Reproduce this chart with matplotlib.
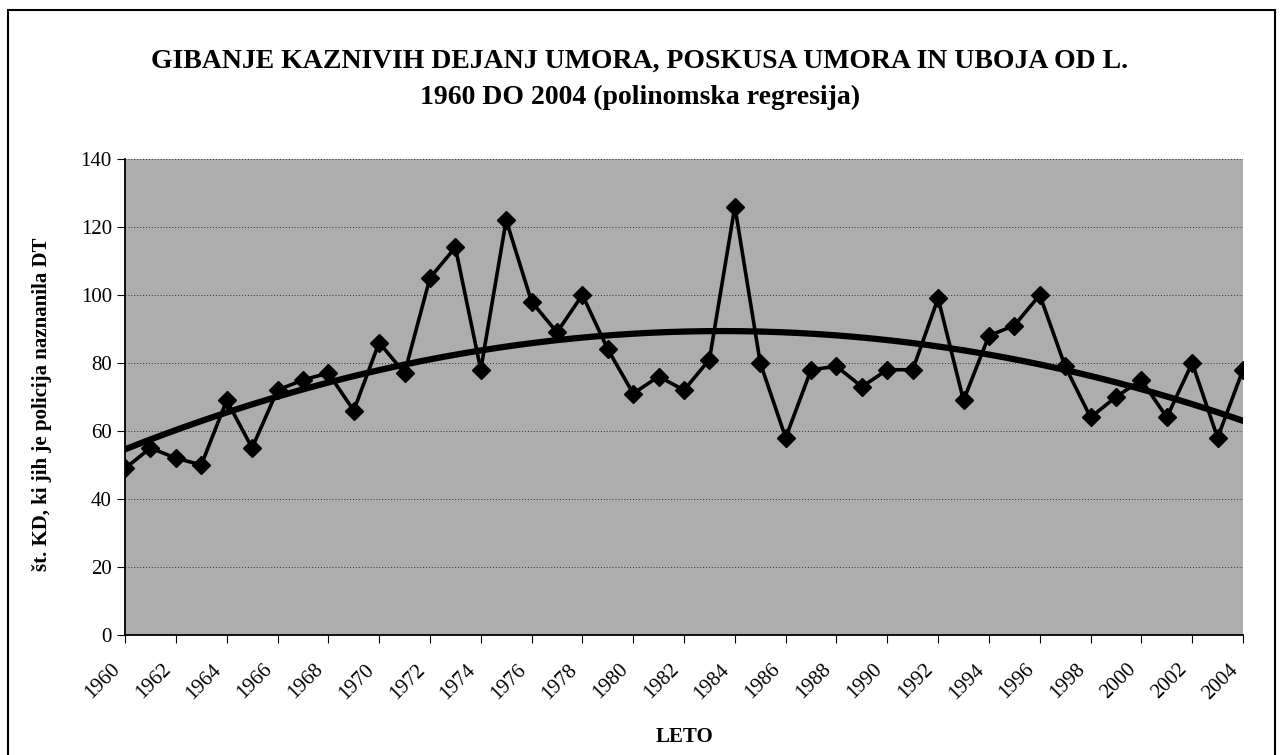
import matplotlib.pyplot as plt
import matplotlib.transforms as mtransforms
import numpy as np
from matplotlib.patches import Rectangle

years = np.arange(1960, 2005)
counts = [49, 55, 52, 50, 69, 55, 72, 75, 77, 66,
          86, 77, 105, 114, 78, 122, 98, 89, 100, 84,
          71, 76, 72, 81, 126, 80, 58, 78, 79, 73,
          78, 78, 99, 69, 88, 91, 100, 79, 64, 70,
          75, 64, 80, 58, 78]
tick_years = np.arange(1960, 2005, 2)

title = ("GIBANJE KAZNIVIH DEJANJ UMORA, POSKUSA UMORA IN UBOJA OD L.\n"
         "1960 DO 2004 (polinomska regresija)")
y_label = "št. KD, ki jih je policija naznanila DT"
x_label = "LETO"

plt.rcParams["font.family"] = ["Liberation Serif", "DejaVu Serif"]

fig = plt.figure(figsize=(12.8, 7.55), dpi=100)
ax = fig.add_axes([0.0977, 0.159, 0.8734, 0.6305])
ax.set_facecolor("#adadad")

# polynomial trend (2nd order, like Excel)
coef = np.polyfit(years - 1960, counts, 2)
xs = np.linspace(1960, 2004, 300)
ax.plot(xs, np.polyval(coef, xs - 1960), color="black", lw=4.5, zorder=3)

ax.plot(years, counts, color="black", lw=2.6, marker="D", markersize=9,
        zorder=4)

ax.set_xlim(1960, 2004)
ax.set_ylim(0, 140)
ax.set_yticks(np.arange(0, 141, 20))
ax.set_xticks(tick_years)
ax.set_xticklabels([str(y) for y in tick_years], rotation=45, ha="right",
                   va="center", rotation_mode="anchor")
ax.tick_params(axis="both", labelsize=15, length=6, direction="out")
ax.tick_params(axis="x", pad=17)
# nudge the slanted year labels a bit to the left, like the original
shift = mtransforms.ScaledTranslation(-8 / 100, 0, fig.dpi_scale_trans)
for lab in ax.get_xticklabels():
    lab.set_transform(lab.get_transform() + shift)

ax.grid(axis="y", color="#333333", lw=0.7, ls=(0, (1, 2)))
ax.set_axisbelow(True)
for side in ("top", "right"):
    ax.spines[side].set_visible(False)
ax.spines["left"].set_linewidth(1.3)
ax.spines["bottom"].set_linewidth(1.3)

fig.text(0.5, 0.895, title, ha="center", va="center", fontsize=20,
         fontweight="bold", linespacing=1.55)
fig.text(0.033, 0.464, y_label, rotation=90, ha="center", va="center",
         fontsize=15, fontweight="bold")
fig.text(0.5344, 0.024, x_label, ha="center", va="center", fontsize=15,
         fontweight="bold")

fig.patches.append(Rectangle((0.006, -0.01), 0.99, 0.997,
                             transform=fig.transFigure, fill=False,
                             edgecolor="black", lw=1.5))

fig.savefig("out.png", dpi=100)
